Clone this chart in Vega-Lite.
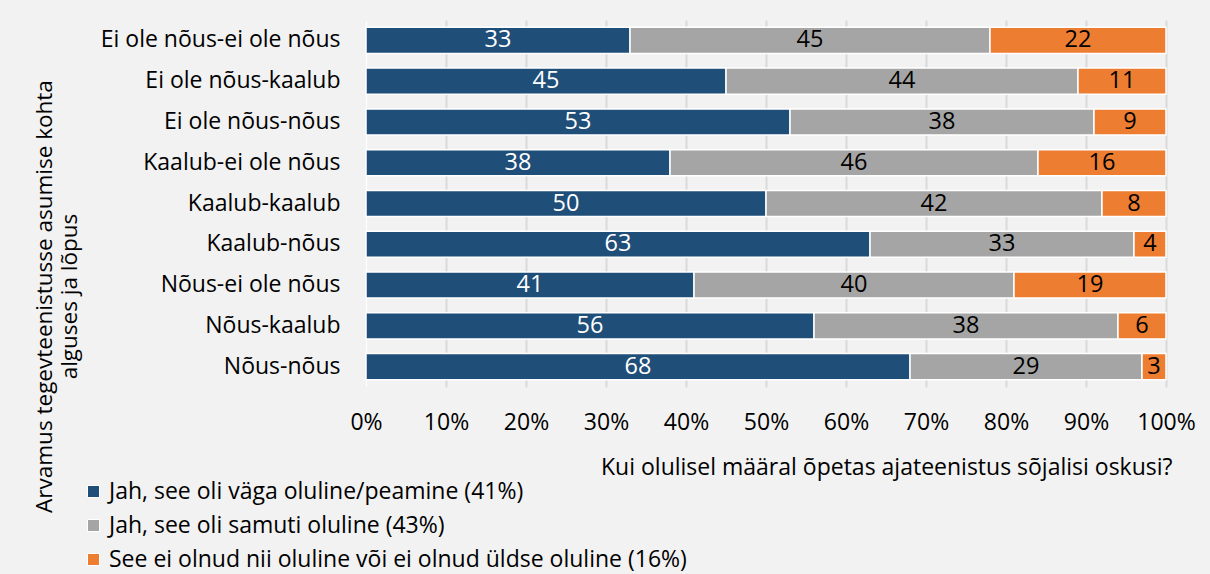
{
  "$schema": "https://vega.github.io/schema/vega-lite/v6.json",
  "width": 800,
  "height": 367,
  "autosize": "none",
  "padding": {"left": 366, "top": 20, "right": 44, "bottom": 187},
  "background": "#f2f2f2",
  "config": {"view": {"stroke": null}, "font": "Open Sans"},
  "data": {"values": [
    {"g": "Ei ole nõus-ei ole nõus", "k": 1, "v": 33},
    {"g": "Ei ole nõus-ei ole nõus", "k": 2, "v": 45},
    {"g": "Ei ole nõus-ei ole nõus", "k": 3, "v": 22},
    {"g": "Ei ole nõus-kaalub", "k": 1, "v": 45},
    {"g": "Ei ole nõus-kaalub", "k": 2, "v": 44},
    {"g": "Ei ole nõus-kaalub", "k": 3, "v": 11},
    {"g": "Ei ole nõus-nõus", "k": 1, "v": 53},
    {"g": "Ei ole nõus-nõus", "k": 2, "v": 38},
    {"g": "Ei ole nõus-nõus", "k": 3, "v": 9},
    {"g": "Kaalub-ei ole nõus", "k": 1, "v": 38},
    {"g": "Kaalub-ei ole nõus", "k": 2, "v": 46},
    {"g": "Kaalub-ei ole nõus", "k": 3, "v": 16},
    {"g": "Kaalub-kaalub", "k": 1, "v": 50},
    {"g": "Kaalub-kaalub", "k": 2, "v": 42},
    {"g": "Kaalub-kaalub", "k": 3, "v": 8},
    {"g": "Kaalub-nõus", "k": 1, "v": 63},
    {"g": "Kaalub-nõus", "k": 2, "v": 33},
    {"g": "Kaalub-nõus", "k": 3, "v": 4},
    {"g": "Nõus-ei ole nõus", "k": 1, "v": 41},
    {"g": "Nõus-ei ole nõus", "k": 2, "v": 40},
    {"g": "Nõus-ei ole nõus", "k": 3, "v": 19},
    {"g": "Nõus-kaalub", "k": 1, "v": 56},
    {"g": "Nõus-kaalub", "k": 2, "v": 38},
    {"g": "Nõus-kaalub", "k": 3, "v": 6},
    {"g": "Nõus-nõus", "k": 1, "v": 68},
    {"g": "Nõus-nõus", "k": 2, "v": 29},
    {"g": "Nõus-nõus", "k": 3, "v": 3}
  ]},
  "transform": [
    {"lookup": "k", "from": {"data": {"values": [
      {"k": 1, "c": "Jah, see oli väga oluline/peamine (41%)"},
      {"k": 2, "c": "Jah, see oli samuti oluline (43%)"},
      {"k": 3, "c": "See ei olnud nii oluline või ei olnud üldse oluline (16%)"}
    ]}, "key": "k", "fields": ["c"]}}
  ],
  "encoding": {
    "y": {
      "field": "g", "type": "nominal", "sort": null,
      "scale": {"paddingInner": 0.36, "paddingOuter": 0.18},
      "axis": {
        "title": ["Arvamus tegevteenistusse asumise kohta", "alguses ja lõpus"],
        "titleFontSize": 22.5, "titleFontWeight": "normal", "titleColor": "#000000",
        "titleAngle": -90, "titleAlign": "center", "titleBaseline": "top",
        "titleX": -333, "titleY": 276, "titleLineHeight": 25,
        "labelFontSize": 23, "labelColor": "#000000", "labelPadding": 26, "labelLimit": 0,
        "ticks": false, "domainColor": "#ffffff", "domainWidth": 2, "grid": false
      }
    }
  },
  "layer": [
    {
      "mark": {"type": "bar", "stroke": "#ffffff", "strokeWidth": 1.5},
      "encoding": {
        "x": {
          "field": "v", "type": "quantitative", "stack": "normalize",
          "scale": {"domain": [0, 1], "nice": false},
          "axis": {
            "values": [0, 0.1, 0.2, 0.3, 0.4, 0.5, 0.6, 0.7, 0.8, 0.9, 1],
            "format": ".0%", "labelFontSize": 23, "labelColor": "#000000",
            "labelPadding": 24, "labelFlush": false, "ticks": false, "domain": false,
            "gridColor": "#d9d9d9", "gridWidth": 2,
            "title": "Kui olulisel määral õpetas ajateenistus sõjalisi oskusi?",
            "titleFontSize": 23, "titleFontWeight": "normal", "titleColor": "#000000",
            "titleAnchor": null, "titleAlign": "right", "titleBaseline": "alphabetic",
            "titleX": 806, "titleY": 87
          }
        },
        "order": {"field": "k", "type": "quantitative"},
        "color": {
          "field": "c", "type": "nominal",
          "scale": {
            "domain": ["Jah, see oli väga oluline/peamine (41%)", "Jah, see oli samuti oluline (43%)", "See ei olnud nii oluline või ei olnud üldse oluline (16%)"],
            "range": ["#1f4e79", "#a5a5a5", "#ed7d31"]
          },
          "legend": {
            "orient": "none", "legendX": -284, "legendY": 460, "direction": "vertical",
            "title": null, "padding": 0, "symbolType": "square", "symbolSize": 144,
            "symbolStrokeColor": "#ffffff", "symbolStrokeWidth": 1,
            "labelFontSize": 23, "labelColor": "#000000", "labelLimit": 0,
            "labelOffset": 4, "rowPadding": 10
          }
        }
      }
    },
    {
      "mark": {"type": "text", "fontSize": 23.5, "align": "center", "baseline": "middle"},
      "encoding": {
        "x": {"field": "v", "type": "quantitative", "stack": "normalize", "bandPosition": 0.5},
        "order": {"field": "k", "type": "quantitative"},
        "detail": {"field": "k", "type": "nominal"},
        "text": {"field": "v", "type": "quantitative"},
        "color": {"condition": {"test": "datum.k === 1", "value": "#ffffff"}, "value": "#000000"}
      }
    }
  ]
}
